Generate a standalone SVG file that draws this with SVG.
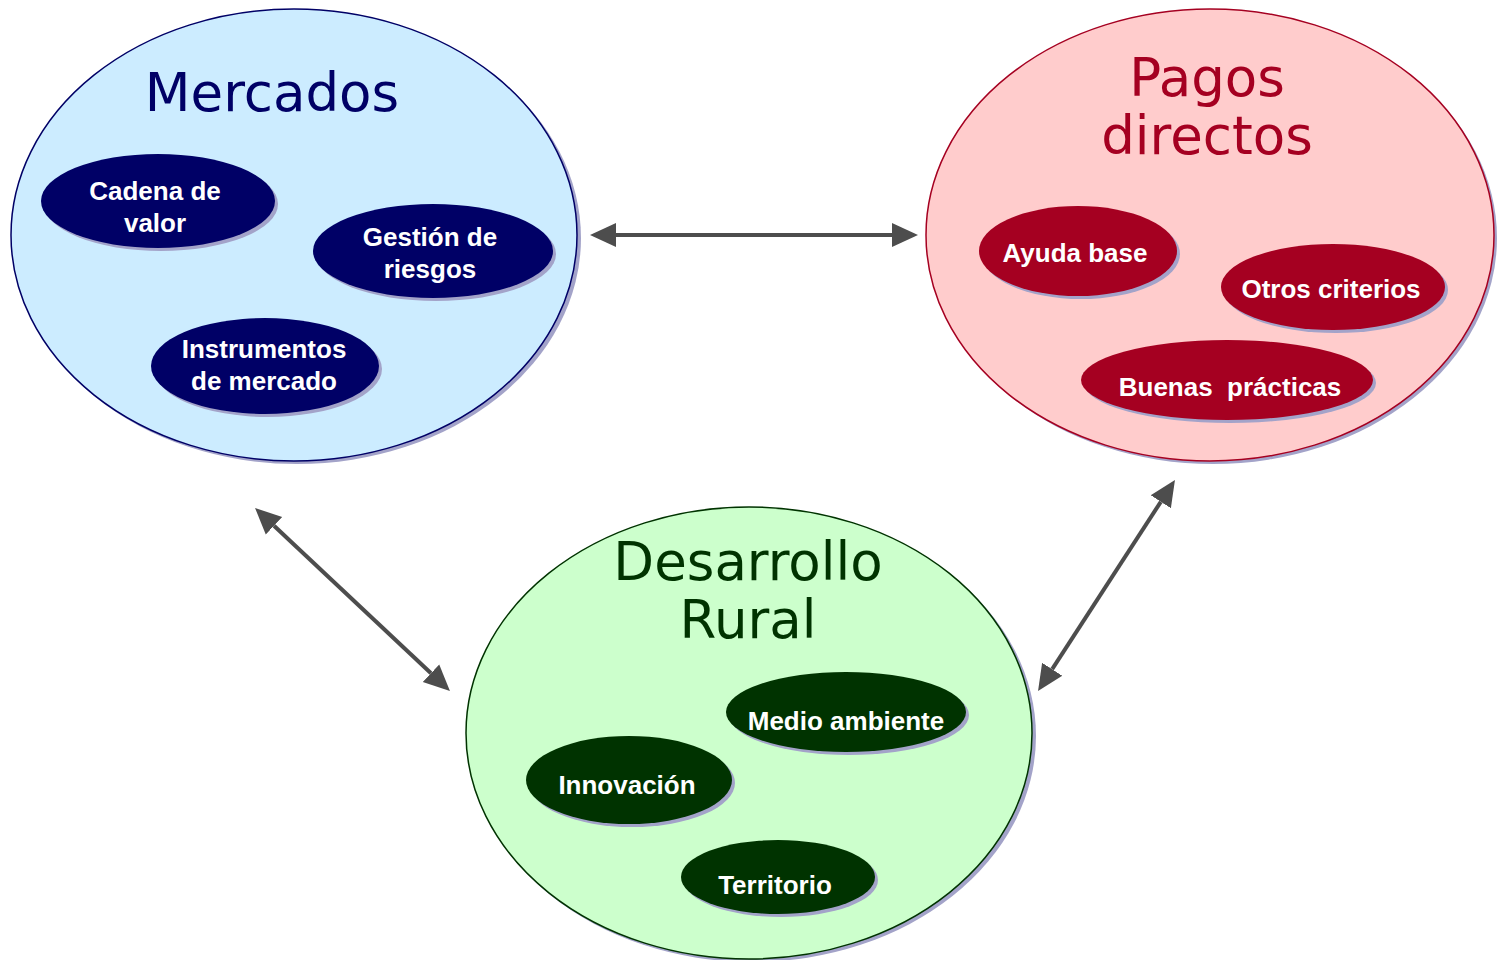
<svg xmlns="http://www.w3.org/2000/svg" width="1503" height="960" viewBox="0 0 1503 960">
<style>
.shadow{fill:#A3A3C9}
.big{stroke-width:1.5}
.title{font-family:"DejaVu Sans",Verdana,sans-serif;font-size:53px;text-anchor:middle}
.lbl{font-family:"Liberation Sans",Arial,sans-serif;font-weight:bold;font-size:26px;fill:#FFFFFF;text-anchor:middle}
.conn{stroke:#4D4D4D;stroke-width:4;fill:none}
</style>
<defs>
<marker id="ah" markerUnits="userSpaceOnUse" viewBox="0 -13 27 26" refX="0" refY="0" markerWidth="27" markerHeight="26" orient="auto-start-reverse">
<path d="M0,-12 L26,0 L0,12 Z" fill="#4D4D4D"/>
</marker>
</defs>
<rect width="1503" height="960" fill="#FFFFFF"/>

<g id="mercados">
<ellipse class="shadow" cx="297" cy="238" rx="284" ry="226"/>
<ellipse class="big" cx="294" cy="235" rx="283" ry="226" fill="#CCECFF" stroke="#000066"/>
<text class="title" x="272" y="111" fill="#000066">Mercados</text>
</g>
<g id="pagos-directos">
<ellipse class="shadow" cx="1213" cy="238" rx="284" ry="226"/>
<ellipse class="big" cx="1210" cy="235" rx="284" ry="226" fill="#FFCCCC" stroke="#A50021"/>
<text class="title" x="1207" y="96" fill="#A50021">Pagos</text>
<text class="title" x="1207" y="154" fill="#A50021">directos</text>
</g>
<g id="desarrollo-rural">
<ellipse class="shadow" cx="752" cy="736" rx="284" ry="226"/>
<ellipse class="big" cx="749" cy="733" rx="283" ry="226" fill="#CCFFCC" stroke="#003300"/>
<text class="title" x="748" y="580" fill="#003300">Desarrollo</text>
<text class="title" x="748" y="638" fill="#003300">Rural</text>
</g>

<g id="cadena-de-valor">
<ellipse class="shadow" cx="161" cy="204" rx="117" ry="47"/>
<ellipse cx="158" cy="201" rx="117" ry="47" fill="#000066"/>
<text class="lbl" x="155" y="200">Cadena de</text>
<text class="lbl" x="155" y="232">valor</text>
</g>
<g id="gestion-de-riesgos">
<ellipse class="shadow" cx="436" cy="254" rx="120" ry="47"/>
<ellipse cx="433" cy="251" rx="120" ry="47" fill="#000066"/>
<text class="lbl" x="430" y="246">Gestión de</text>
<text class="lbl" x="430" y="278">riesgos</text>
</g>
<g id="instrumentos-de-mercado">
<ellipse class="shadow" cx="268" cy="369" rx="114" ry="48"/>
<ellipse cx="265" cy="366" rx="114" ry="48" fill="#000066"/>
<text class="lbl" x="264" y="358">Instrumentos</text>
<text class="lbl" x="264" y="390">de mercado</text>
</g>

<g id="ayuda-base">
<ellipse class="shadow" cx="1081" cy="254" rx="99" ry="45"/>
<ellipse cx="1078" cy="251" rx="99" ry="45" fill="#A50021"/>
<text class="lbl" x="1075" y="262">Ayuda base</text>
</g>
<g id="otros-criterios">
<ellipse class="shadow" cx="1336" cy="290" rx="112" ry="43"/>
<ellipse cx="1333" cy="287" rx="112" ry="43" fill="#A50021"/>
<text class="lbl" x="1331" y="298">Otros criterios</text>
</g>
<g id="buenas-practicas">
<ellipse class="shadow" cx="1230" cy="383" rx="146" ry="40"/>
<ellipse cx="1227" cy="380" rx="146" ry="40" fill="#A50021"/>
<text class="lbl" x="1230" y="396" xml:space="preserve">Buenas  prácticas</text>
</g>

<g id="medio-ambiente">
<ellipse class="shadow" cx="849" cy="715" rx="120" ry="40"/>
<ellipse cx="846" cy="712" rx="120" ry="40" fill="#003300"/>
<text class="lbl" x="846" y="730">Medio ambiente</text>
</g>
<g id="innovacion">
<ellipse class="shadow" cx="632" cy="783" rx="103" ry="44"/>
<ellipse cx="629" cy="780" rx="103" ry="44" fill="#003300"/>
<text class="lbl" x="627" y="794">Innovación</text>
</g>
<g id="territorio">
<ellipse class="shadow" cx="781" cy="880" rx="97" ry="37"/>
<ellipse cx="778" cy="877" rx="97" ry="37" fill="#003300"/>
<text class="lbl" x="775" y="894">Territorio</text>
</g>

<g id="connectors">
<line class="conn" x1="616" y1="235" x2="892" y2="235" marker-start="url(#ah)" marker-end="url(#ah)"/>
<line class="conn" x1="274" y1="525.8" x2="431" y2="673.2" marker-start="url(#ah)" marker-end="url(#ah)"/>
<line class="conn" x1="1160.8" y1="501.8" x2="1052.2" y2="669.2" marker-start="url(#ah)" marker-end="url(#ah)"/>
</g>
</svg>
